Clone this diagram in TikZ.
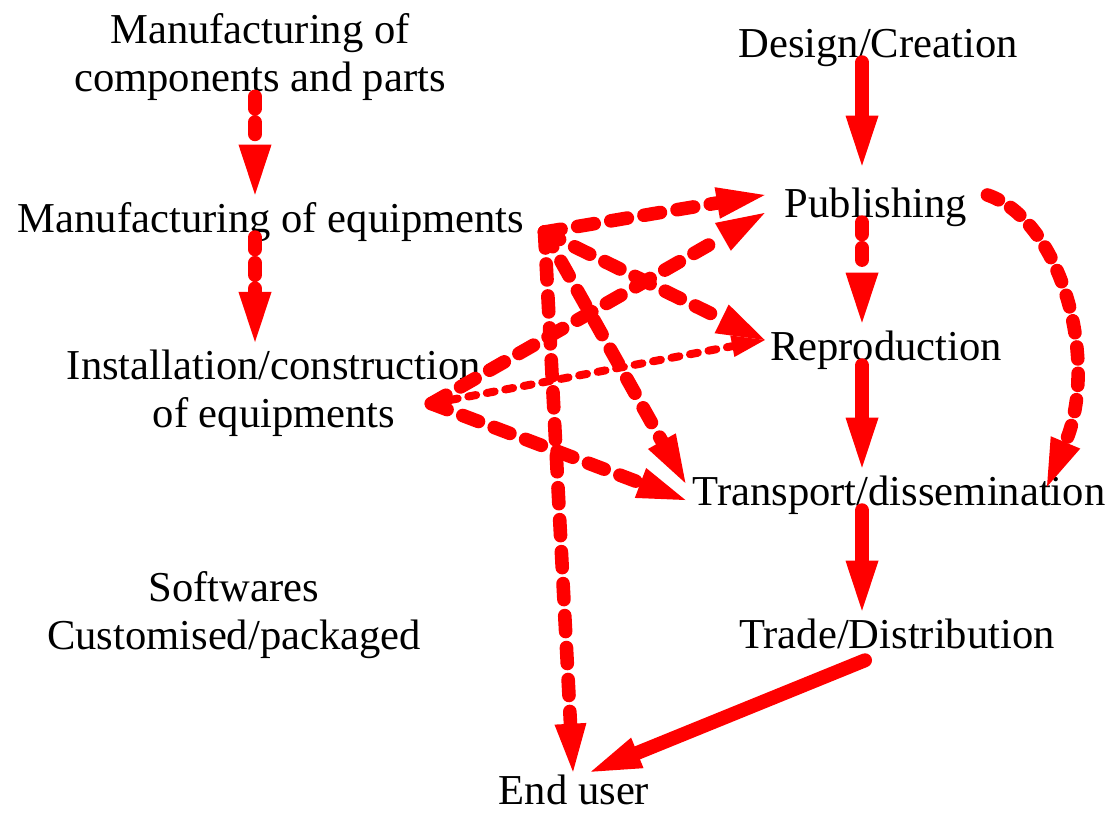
\documentclass[tikz,border=0pt]{standalone}
\usepackage{fontspec}
\setmainfont{Liberation Serif}
\usetikzlibrary{arrows.meta,calc}

\begin{document}
\begin{tikzpicture}[x=0.025cm, y=-0.025cm,
    lbl/.style={font=\fontsize{30.3}{34.1}\selectfont, inner sep=0pt, align=center},
    tag/.style={lbl, anchor=base, text height=0.725cm, text depth=0.225cm},
    block/.style={lbl, anchor=north},
    flow/.style={red, line width=0.35cm, line cap=round, -{Triangle[length=1.25cm, width=0.825cm, line width=0pt]}},
    notched/.style={flow, dash pattern=on 0.3cm off 0.34cm},
    gap/.style={shorten <=-0.1cm, shorten >=0.2cm},
    link/.style={red, line width=0.34cm, line cap=round, dash pattern=on 0.42cm off 0.42cm, -{Triangle[length=1.2cm, width=0.8cm, line width=0pt]}},
    thinlink/.style={red, line width=0.2cm, line cap=round, dash pattern=on 0.2cm off 0.27cm, -{Triangle[length=0.825cm, width=0.55cm, line width=0pt]}}]
    \useasboundingbox (0,0) rectangle (1111,812);

    % Left column
    \node[block] (comp) at (260,13) {Manufacturing of\\components and parts};
    \node[tag] (eqp) at (271,232) {Manufacturing of equipments};
    \node[block] (inst) at (274,350) {Installation/construction\\of equipments};
    \node[block] (soft) at (234,571) {Softwares\\Customised/packaged};

    % Right column
    \node[tag] (design) at (878,57) {Design/Creation};
    \node[tag] (pub) at (876,217) {Publishing};
    \node[tag] (rep) at (886,360) {Reproduction};
    \node[tag] (trans) at (899,505) {Transport/dissemination};
    \node[tag] (trade) at (897,648) {Trade/Distribution};
    \node[tag, text depth=0pt] (user) at (574,804) {End user};

    \coordinate (lcol) at (255,0);
    \coordinate (rcol) at (862,0);
    \coordinate (eqhub) at ([shift={(20,10)}]eqp.east);
    \coordinate (insthub) at ([shift={(-50,10)}]inst.east);

    % Main chain
    \draw[flow, gap, shorten >=0.55cm] (design.south -| rcol) -- (pub.north -| rcol);
    \draw[notched, gap] (pub.south -| rcol) -- (rep.north -| rcol);
    \draw[flow, gap] (rep.south -| rcol) -- (trans.north -| rcol);
    \draw[flow, gap] (trans.south -| rcol) -- (trade.north -| rcol);
    \draw[notched, gap] (comp.south -| lcol) -- (eqp.north -| lcol);
    \draw[notched, gap] (eqp.south -| lcol) -- (inst.north -| lcol);
    \draw[flow] ([shift={(-32,3)}]trade.south) -- ([shift={(17,-3)}]user.north);

    % Equipments links
    \draw[link] (eqhub) -- ([shift={(-20,-12)}]pub.west);
    \draw[link] (eqhub) -- ([shift={(-5,-10)}]rep.west);
    \draw[link] (eqhub) -- ([shift={(-7,-12)}]trans.west);
    \draw[link, dash pattern=on 0.4cm off 0.4cm] (eqhub) -- ([shift={(-1,-3)}]user.north);

    % Installation links
    \draw[link] (insthub) -- ([shift={(-20,6)}]pub.west);
    \draw[thinlink] (insthub) -- ([shift={(-5,-10)}]rep.west);
    \draw[link] (insthub) -- ([shift={(-7,5)}]trans.west);

    % Publishing straight to transport
    \draw[link, dash pattern=on 0.3cm off 0.36cm] ([shift={(20,-12)}]pub.east) .. controls +(73,25) and +(53,-127) .. ([shift={(148,11)}]trans.north);
\end{tikzpicture}
\end{document}
